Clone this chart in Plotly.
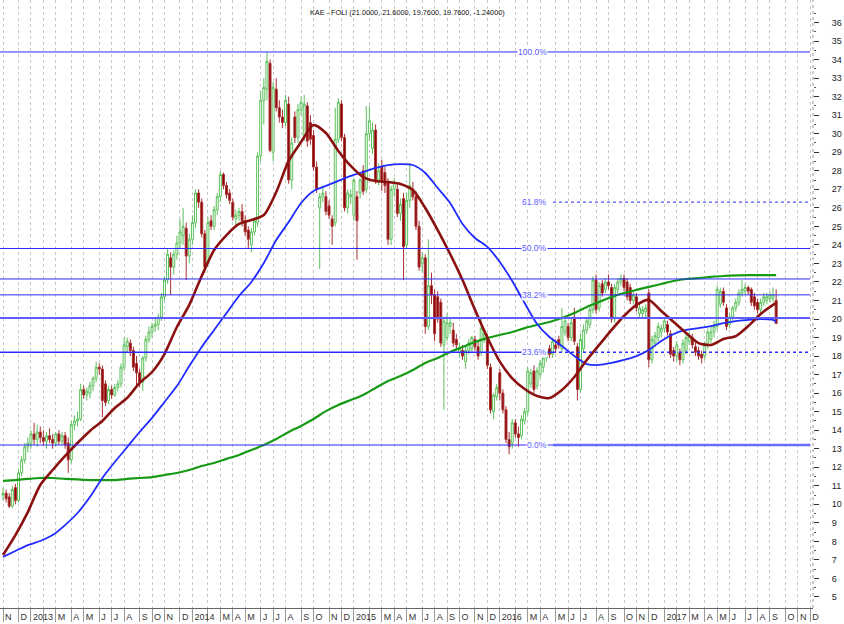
import pandas as pd
import plotly.graph_objects as go

# ---------------- data ----------------
title_text = "KAE - FOLI (21.0000, 21.6000, 19.7600, 19.7600, -1.24000)"
first_bar_date = "2012-11-02"          # weekly bars (Fridays)
closed_weeks = ["2015-07-03", "2015-07-10", "2015-07-17", "2015-07-24", "2015-07-31"]  # Athens exchange closed
month_letters = ["", "", "M", "A", "M", "J", "J", "A", "S", "O", "N", "D"]

opens = [
    10.5, 10.6, 10.4, 9.9, 10.9, 10.2, 11.7, 12.4, 13.1, 13.3,
    13.8, 13.5, 13.9, 13.6, 13.4, 13.7, 13.5, 13.3, 13.8, 13.4,
    13.7, 13.3, 12.4, 14.3, 14.5, 14.6, 16.2, 15.9, 16.0, 16.4,
    16.8, 17.4, 17.3, 16.5, 15.6, 16.2, 15.9, 16.3, 16.5, 17.4,
    18.5, 18.7, 18.3, 17.6, 17.1, 16.6, 17.9, 18.9, 19.3, 19.6,
    19.7, 20.1, 21.2, 22.1, 23.3, 22.8, 23.5, 24.1, 24.5, 24.9,
    23.4, 24.3, 25.2, 26.8, 26.3, 24.6, 23.0, 25.3, 25.0, 25.9,
    26.6, 27.8, 27.2, 26.8, 26.3, 25.4, 25.6, 25.8, 25.3, 24.8,
    24.0, 24.7, 25.2, 28.8, 31.8, 32.4, 33.8, 29.0, 32.4, 31.4,
    30.9, 30.6, 31.6, 27.5, 30.9, 29.8, 31.3, 29.9, 31.5, 30.6,
    29.9, 28.2, 26.0, 26.6, 26.6, 26.1, 25.4, 25.2, 29.7, 31.6,
    29.8, 26.0, 26.6, 25.6, 26.6, 26.8, 28.0, 27.0, 30.0, 29.2,
    30.2, 27.5, 28.2, 27.9, 27.4, 24.3, 27.0, 27.0, 25.7, 26.5,
    24.0, 26.4, 27.0, 26.6, 25.0, 23.0, 23.3, 19.6, 21.8, 21.3,
    21.2, 20.9, 18.6, 19.0, 19.6, 19.4, 18.9, 18.2, 18.3, 17.7,
    18.3, 18.4, 18.9, 18.5, 18.2, 19.0, 19.0, 17.4, 15.0, 15.8,
    17.1, 16.0, 15.1, 13.5, 13.3, 14.4, 13.8, 13.7, 14.5, 15.0,
    16.5, 17.2, 16.4, 17.0, 17.4, 17.9, 18.4, 18.1, 18.6, 18.9,
    18.4, 19.3, 19.6, 19.0, 20.1, 18.5, 16.2, 18.4, 19.4, 19.7,
    20.5, 22.1, 20.6, 21.9, 21.6, 22.0, 21.7, 20.0, 21.6, 22.0,
    22.2, 22.0, 21.7, 21.0, 21.2, 20.3, 20.3, 20.4, 21.4, 17.8,
    18.7, 19.0, 19.3, 19.5, 19.7, 19.2, 18.3, 18.0, 18.2, 17.8,
    18.3, 18.8, 19.0, 18.5, 18.3, 18.1, 18.0, 18.6, 18.9, 19.3,
    19.6, 20.8, 21.5, 20.6, 19.7, 20.1, 20.6, 20.9, 21.4, 21.5,
    21.7, 21.6, 21.2, 20.9, 20.5, 20.9, 21.0, 21.1, 21.1, 21.0,
]
highs = [
    10.9, 10.8, 10.6, 11.0, 11.1, 11.9, 12.6, 13.3, 13.6, 14.0,
    14.4, 14.3, 14.2, 14.0, 13.9, 14.1, 13.8, 13.9, 14.0, 13.9,
    13.9, 13.6, 14.5, 14.8, 15.0, 16.5, 16.4, 16.3, 16.6, 16.9,
    17.7, 17.6, 17.5, 16.7, 16.4, 16.4, 16.5, 16.7, 17.6, 19.0,
    19.0, 18.9, 18.5, 18.0, 17.3, 18.0, 19.1, 19.6, 19.8, 20.1,
    20.3, 21.4, 22.3, 23.8, 23.6, 23.7, 24.5, 25.4, 26.0, 25.2,
    24.6, 25.6, 27.0, 27.0, 26.5, 24.8, 25.5, 25.6, 26.1, 26.8,
    28.0, 27.9, 27.4, 27.0, 26.5, 25.9, 26.0, 26.2, 25.6, 25.0,
    24.9, 25.5, 29.0, 32.3, 33.0, 34.4, 34.0, 32.8, 33.0, 31.8,
    31.3, 32.1, 32.0, 29.8, 31.2, 31.6, 32.0, 32.1, 31.7, 31.0,
    30.2, 28.5, 26.8, 27.2, 26.9, 26.4, 25.6, 31.4, 31.9, 31.8,
    30.0, 27.0, 27.0, 27.6, 26.9, 27.6, 28.3, 31.5, 31.5, 30.6,
    30.5, 28.4, 28.6, 28.2, 27.6, 27.2, 27.6, 27.3, 26.5, 26.8,
    26.8, 28.4, 27.4, 26.9, 25.3, 23.6, 23.5, 24.3, 22.5, 21.6,
    21.5, 21.1, 20.0, 20.3, 20.0, 19.8, 19.2, 18.7, 18.6, 18.5,
    18.9, 19.1, 19.1, 18.8, 20.1, 19.4, 19.2, 17.6, 16.0, 16.5,
    17.3, 16.2, 15.3, 13.9, 14.6, 14.6, 14.2, 14.8, 15.2, 17.4,
    17.3, 17.5, 17.4, 17.8, 18.0, 18.5, 18.6, 19.0, 18.9, 19.1,
    20.6, 20.1, 19.8, 20.0, 20.6, 18.7, 19.2, 19.7, 20.1, 20.7,
    22.3, 22.4, 22.0, 22.1, 22.2, 22.4, 21.9, 21.9, 22.2, 22.4,
    22.4, 22.2, 21.9, 21.5, 21.4, 20.8, 20.7, 20.8, 21.6, 19.1,
    19.3, 19.8, 19.7, 20.1, 19.9, 19.4, 18.5, 18.8, 18.4, 18.9,
    19.2, 19.3, 19.2, 18.8, 18.5, 18.3, 18.8, 19.5, 19.6, 19.9,
    21.8, 21.7, 21.7, 20.8, 20.3, 20.7, 21.1, 21.6, 22.1, 21.9,
    21.8, 21.7, 21.4, 21.1, 21.1, 21.4, 21.4, 21.5, 21.7, 21.6,
]
lows = [
    10.2, 10.1, 9.8, 9.8, 10.0, 10.1, 11.5, 12.2, 12.8, 13.0,
    13.2, 13.1, 13.3, 13.2, 13.0, 13.3, 13.0, 13.1, 13.2, 13.2,
    13.0, 11.7, 12.2, 14.0, 14.2, 14.5, 15.7, 15.6, 15.7, 16.1,
    16.6, 17.0, 14.7, 15.3, 15.4, 15.7, 15.8, 16.1, 16.3, 17.2,
    18.2, 18.0, 17.2, 16.4, 16.3, 16.1, 17.7, 18.7, 19.0, 19.3,
    19.4, 19.9, 21.0, 21.9, 21.3, 22.4, 23.2, 23.8, 24.0, 22.1,
    23.0, 24.0, 24.9, 26.0, 24.4, 22.5, 22.8, 24.8, 24.8, 25.6,
    26.3, 27.0, 26.5, 26.2, 25.3, 25.0, 25.3, 25.0, 24.5, 23.8,
    23.6, 24.5, 25.0, 28.5, 30.5, 31.8, 29.0, 28.5, 31.2, 30.6,
    30.3, 30.4, 27.3, 27.0, 29.5, 29.5, 31.0, 29.6, 29.3, 29.4,
    28.0, 26.8, 22.7, 26.3, 25.6, 25.4, 24.0, 25.0, 29.5, 29.6,
    25.8, 25.7, 26.2, 25.3, 23.2, 26.5, 26.7, 26.8, 29.6, 28.9,
    27.3, 27.2, 26.9, 26.8, 24.0, 24.0, 26.6, 25.5, 25.3, 22.1,
    23.8, 26.0, 26.4, 24.8, 22.6, 22.5, 19.2, 19.4, 20.8, 18.8,
    19.8, 18.5, 15.1, 18.8, 19.2, 18.5, 18.4, 17.9, 17.8, 17.3,
    18.1, 18.2, 18.3, 17.8, 18.0, 18.7, 17.3, 14.9, 14.6, 15.6,
    15.6, 14.9, 13.3, 12.7, 13.0, 13.6, 13.1, 13.5, 14.3, 14.8,
    16.3, 16.0, 16.2, 16.8, 17.1, 17.7, 17.9, 17.9, 18.2, 18.4,
    18.2, 19.1, 18.8, 18.8, 18.6, 15.6, 16.0, 18.2, 19.2, 19.5,
    20.3, 20.3, 20.4, 21.2, 21.4, 21.6, 19.8, 19.8, 21.4, 21.8,
    21.5, 21.0, 20.8, 20.8, 20.4, 20.0, 20.0, 20.1, 17.4, 17.6,
    18.5, 18.8, 19.0, 19.3, 19.1, 17.9, 17.7, 17.7, 17.5, 17.6,
    18.1, 18.6, 18.4, 18.0, 17.8, 17.6, 17.8, 18.4, 18.7, 19.0,
    19.4, 20.6, 20.7, 19.4, 19.5, 19.9, 20.4, 20.7, 21.2, 21.3,
    21.3, 20.7, 20.5, 20.3, 20.3, 20.7, 20.8, 20.9, 20.9, 19.76,
]
closes = [
    10.6, 10.3, 9.9, 10.8, 10.2, 11.7, 12.4, 13.1, 13.3, 13.8,
    13.5, 13.9, 13.6, 13.4, 13.7, 13.5, 13.3, 13.8, 13.4, 13.7,
    13.2, 12.4, 14.3, 14.5, 14.6, 16.2, 15.9, 16.1, 16.4, 16.8,
    17.4, 17.3, 15.6, 15.5, 16.2, 15.9, 16.3, 16.5, 17.4, 18.6,
    18.8, 18.3, 17.4, 17.1, 16.6, 17.9, 18.9, 19.3, 19.6, 19.7,
    20.1, 21.2, 22.1, 23.5, 22.8, 23.5, 24.1, 24.7, 25.0, 23.4,
    24.3, 25.2, 26.8, 26.3, 24.6, 22.8, 25.2, 25.0, 25.9, 26.6,
    27.8, 27.2, 26.7, 26.4, 25.5, 25.6, 25.8, 25.3, 24.7, 24.3,
    24.7, 25.3, 28.8, 31.8, 32.5, 33.9, 29.1, 32.5, 31.4, 30.9,
    30.6, 31.8, 27.5, 29.5, 29.8, 31.3, 31.7, 31.6, 29.6, 29.7,
    28.2, 27.0, 26.6, 26.8, 25.8, 25.6, 25.0, 29.7, 31.7, 29.8,
    26.0, 26.8, 26.7, 27.5, 25.3, 27.5, 26.9, 30.0, 30.7, 30.2,
    27.5, 28.0, 27.4, 27.2, 24.3, 27.0, 27.4, 25.7, 26.2, 23.9,
    26.4, 27.2, 26.6, 25.0, 22.8, 23.3, 19.6, 21.8, 21.3, 19.2,
    20.0, 18.7, 19.9, 19.8, 19.8, 18.7, 18.6, 18.4, 18.0, 18.3,
    18.7, 19.0, 18.5, 18.0, 19.5, 19.2, 17.5, 15.1, 15.9, 16.3,
    16.0, 15.1, 13.5, 13.1, 14.4, 13.8, 13.6, 14.6, 15.0, 17.2,
    17.1, 16.2, 17.2, 17.6, 17.9, 18.3, 18.1, 18.8, 18.4, 18.6,
    19.6, 19.9, 19.0, 19.8, 18.8, 16.2, 18.9, 19.4, 19.9, 20.5,
    22.1, 20.5, 21.8, 21.4, 22.0, 21.8, 20.0, 21.7, 22.0, 22.2,
    21.7, 21.2, 21.0, 21.3, 20.6, 20.6, 20.5, 20.6, 17.8, 18.9,
    19.1, 19.6, 19.5, 19.9, 19.3, 18.1, 18.0, 18.6, 17.8, 18.7,
    19.0, 19.1, 18.6, 18.2, 18.0, 17.9, 18.6, 19.3, 19.3, 19.6,
    21.6, 21.5, 20.9, 19.6, 20.1, 20.6, 20.9, 21.4, 21.6, 21.7,
    21.5, 20.9, 20.7, 20.5, 20.9, 21.2, 21.2, 21.3, 21.3, 19.76,
]

# moving averages read every 4th bar (plus last bar)
ma_step = 4
ma_fast = [
    7.26, 8.34, 9.58, 11.04, 11.85, 12.61, 13.31, 13.96, 14.5, 15.2,
    15.74, 16.55, 17.14, 18.11, 19.57, 20.76, 22.32, 23.72, 24.53, 25.13,
    25.34, 25.61, 26.85, 28.53, 29.55, 30.47, 30.04, 29.07, 28.26, 27.66,
    27.45, 27.39, 27.29, 26.96, 25.99, 24.8, 23.51, 22.1, 20.5, 19.0,
    17.7, 16.8, 16.22, 15.84, 15.74, 16.17, 16.87, 17.79, 18.6, 19.41,
    20.16, 20.76, 21.03, 20.43, 19.84, 19.24, 18.7, 18.6, 18.92, 19.08,
    19.62, 20.27, 20.76, 20.86,
]
ma_mid = [
    7.16, 7.48, 7.8, 8.02, 8.34, 8.88, 9.53, 10.39, 11.42, 12.28,
    13.09, 13.9, 14.66, 15.52, 16.38, 17.46, 18.49, 19.41, 20.32, 21.24,
    22.0, 23.02, 24.26, 25.23, 26.26, 26.91, 27.18, 27.45, 27.72, 27.93,
    28.15, 28.31, 28.36, 28.31, 27.88, 27.07, 26.26, 25.13, 24.37, 23.89,
    23.08, 22.05, 20.86, 19.73, 19.03, 18.54, 18.0, 17.57, 17.52, 17.63,
    17.79, 18.0, 18.33, 18.81, 19.19, 19.41, 19.51, 19.62, 19.78, 19.89,
    19.95, 20.0, 19.95, 19.84,
]
ma_slow = [
    11.26, 11.31, 11.37, 11.42, 11.42, 11.37, 11.34, 11.31, 11.31, 11.31,
    11.37, 11.42, 11.47, 11.58, 11.69, 11.85, 12.07, 12.23, 12.45, 12.66,
    12.93, 13.2, 13.52, 13.9, 14.23, 14.6, 15.03, 15.36, 15.63, 15.9,
    16.28, 16.65, 16.92, 17.25, 17.63, 17.9, 18.22, 18.49, 18.76, 18.97,
    19.14, 19.3, 19.51, 19.68, 19.84, 20.05, 20.32, 20.65, 20.92, 21.19,
    21.4, 21.57, 21.73, 21.89, 22.05, 22.16, 22.21, 22.27, 22.32, 22.35,
    22.37, 22.37, 22.37, 22.37,
]

fib_high = 34.41
fib_low = 13.2
fib_ratios = [1.0, 0.618, 0.5, 0.382, 0.236, 0.0]
fib_labels = ["100.0%", "61.8%", "50.0%", "38.2%", "23.6%", "0.0%"]
extra_levels = [22.16, 20.05]

y_ticks = list(range(5, 37))

# ---------------- build ----------------
FONT = "Liberation Sans Narrow, Arial Narrow, Liberation Sans, Arial, sans-serif"
W, H = 844, 624
ML, MR, MT, MB = 0, 31, 0, 16
PW, PH = W - ML - MR, H - MT - MB

dates = pd.date_range(first_bar_date, periods=270, freq="W-FRI")
dates = dates[~dates.isin(pd.to_datetime(closed_weeks))]
n = len(closes)
bar_x = list(range(n))

# axis range in bar units: first bar 3px from the left edge, 3.105 px per bar
px_per_bar = 3.105
x_lo = -3 / px_per_bar
x_hi = x_lo + PW / px_per_bar

# month boundaries (first bar of each month)
month_pos, month_txt = [], []
prev = None
for i, d in enumerate(dates):
    key = (d.year, d.month)
    if key != prev:
        prev = key
        if i > x_hi:
            break
        month_pos.append(i)
        if d.month == 1:
            month_txt.append(str(d.year))
        else:
            month_txt.append(month_letters[d.month - 1])

fig = go.Figure()

fig.add_trace(go.Candlestick(
    x=bar_x, open=opens, high=highs, low=lows, close=closes,
    increasing=dict(line=dict(color="#5cc05c", width=1), fillcolor="white"),
    decreasing=dict(line=dict(color="#a83030", width=1), fillcolor="#880000"),
    whiskerwidth=0, showlegend=False, hoverinfo="skip",
))

ma_x = list(range(0, n, ma_step))
if ma_x[-1] != n - 1:
    ma_x.append(n - 1)

for vals, col, wd in [(ma_slow, "#169a16", 2.2), (ma_mid, "#1f2bff", 1.8), (ma_fast, "#8b1010", 2.6)]:
    fig.add_trace(go.Scatter(x=ma_x, y=vals, mode="lines",
                             line=dict(color=col, width=wd, shape="spline", smoothing=0.7),
                             showlegend=False, hoverinfo="skip"))

shapes = []
line_blue = "#2a2aff"
fib_start = 553 / PW
fib_end = 810 / PW
for r in fib_ratios:
    lvl = fib_low + r * (fib_high - fib_low)
    if r == 0.618:
        shapes.append(dict(type="line", xref="paper", yref="y", x0=fib_start, x1=fib_end, y0=lvl, y1=lvl,
                           line=dict(color=line_blue, width=1, dash="dot"), layer="above"))
    elif r == 0.236:
        shapes.append(dict(type="line", xref="paper", yref="y", x0=0, x1=fib_start, y0=lvl, y1=lvl,
                           line=dict(color=line_blue, width=1.3), layer="above"))
        shapes.append(dict(type="line", xref="paper", yref="y", x0=fib_start, x1=fib_end, y0=lvl, y1=lvl,
                           line=dict(color=line_blue, width=1.3, dash="dot"), layer="above"))
    else:
        shapes.append(dict(type="line", xref="paper", yref="y", x0=0, x1=fib_end, y0=lvl, y1=lvl,
                           line=dict(color=line_blue, width=1), layer="above"))
        if r == 0.0:
            shapes.append(dict(type="line", xref="paper", yref="y", x0=fib_start, x1=fib_end, y0=lvl, y1=lvl,
                               line=dict(color="#6a6aff", width=2.5), layer="above"))
for k, lvl in enumerate(extra_levels):
    shapes.append(dict(type="line", xref="paper", yref="y", x0=0, x1=fib_end, y0=lvl, y1=lvl,
                       line=dict(color=line_blue if k == 0 else "#5c5cff", width=1 if k == 0 else 2),
                       layer="above"))
# dotted price-axis line
shapes.append(dict(type="line", xref="paper", yref="paper", x0=1, x1=1, y0=0, y1=1,
                   line=dict(color="#9a9a9a", width=1, dash="dot")))

annotations = [dict(text=title_text, xref="paper", yref="paper", x=407 / PW, y=1 - 12 / PH,
                    xanchor="center", yanchor="middle", showarrow=False,
                    font=dict(family=FONT, size=7.3, color="#111"))]
for r, lab in zip(fib_ratios, fib_labels):
    lvl = fib_low + r * (fib_high - fib_low)
    annotations.append(dict(text=lab, xref="paper", yref="y", x=548 / PW, y=lvl,
                            xanchor="right", yanchor="middle", showarrow=False,
                            bgcolor="white", borderpad=0,
                            font=dict(family=FONT, size=8.5, color="#5b5bff")))

fig.update_layout(
    width=W, height=H,
    margin=dict(l=ML, r=MR, t=MT, b=MB),
    paper_bgcolor="white", plot_bgcolor="white",
    shapes=shapes, annotations=annotations,
    showlegend=False,
    boxgap=0.1,
    xaxis=dict(
        range=[x_lo, x_hi], rangeslider=dict(visible=False),
        tickmode="array", tickvals=[p + 0.5 for p in month_pos], ticktext=month_txt,
        ticks="", ticklabelposition="outside right", tickangle=0,
        tickfont=dict(family=FONT, size=9, color="#333"),
        showgrid=False, zeroline=False,
        showline=True, linecolor="#666", linewidth=1,
        minor=dict(tickmode="array", tickvals=month_pos, ticks="outside", ticklen=13,
                   tickcolor="#999", showgrid=True, gridcolor="#c8c8c8", griddash="dot", gridwidth=1),
        automargin=False, fixedrange=True,
    ),
    yaxis=dict(
        side="right", range=[20 - 289 / 18.53, 20 + 319 / 18.53],
        tickmode="array", tickvals=y_ticks, ticktext=[str(v) for v in y_ticks],
        ticks="outside", ticklen=5, tickcolor="#333",
        tickfont=dict(family=FONT, size=9, color="#222"),
        ticklabelstandoff=11,
        minor=dict(tickmode="array", tickvals=[v + 0.5 for v in y_ticks], ticks="outside",
                   ticklen=2, tickcolor="#555"),
        showgrid=False, zeroline=False, showline=False,
        automargin=False, fixedrange=True,
    ),
)

fig.write_html("out.html", config={"displayModeBar": False},
               post_script="document.body.style.margin='0';document.body.style.overflow='hidden';")
